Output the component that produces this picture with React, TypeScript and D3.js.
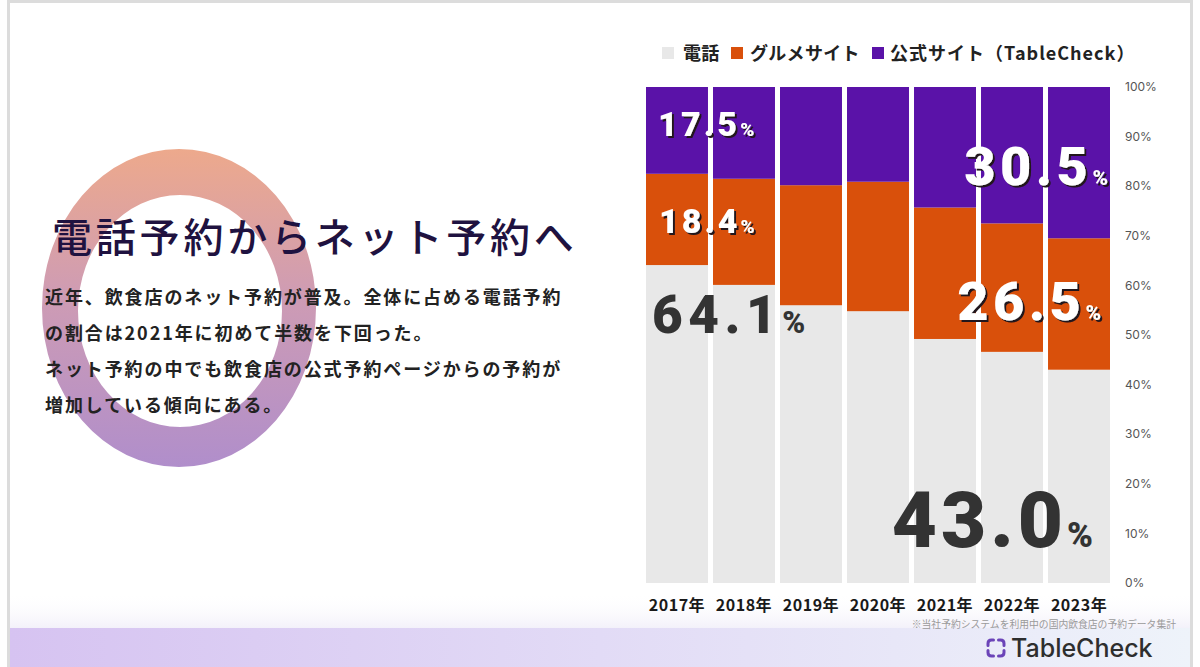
import React from "react";
import * as d3 from "d3";

const years = ["2017年", "2018年", "2019年", "2020年", "2021年", "2022年", "2023年"];
const phone = [64.1, 60.1, 56.0, 54.8, 49.2, 46.6, 43.0];
const gourmet = [18.4, 21.4, 24.2, 26.1, 26.5, 25.9, 26.5];
const official = [17.5, 18.5, 19.8, 19.1, 24.3, 27.5, 30.5];
const seriesKeys = ["phone", "gourmet", "official"];
const seriesNames = ["電話", "グルメサイト", "公式サイト（TableCheck）"];
const seriesColors = ["#e8e8e8", "#d9500b", "#5a12a8"];
const yTicks = [0, 10, 20, 30, 40, 50, 60, 70, 80, 90, 100];
const titleText = "電話予約からネット予約へ";
const bodyLines = [
  "近年、飲食店のネット予約が普及。全体に占める電話予約",
  "の割合は2021年に初めて半数を下回った。",
  "ネット予約の中でも飲食店の公式予約ページからの予約が",
  "増加している傾向にある。",
];
const footnote = "※当社予約システムを利用中の国内飲食店の予約データ集計";
const brand = "TableCheck";

const JP = "'Noto Sans CJK JP', 'Noto Sans', sans-serif";
const NUM = "Roboto, 'Noto Sans', 'DejaVu Sans', sans-serif";

export default function App() {
  const W = 1200;
  const H = 667;
  const x = d3.scaleBand<string>().domain(years).range([646, 1110]).paddingInner(0.075).paddingOuter(0);
  const y = d3.scaleLinear().domain([0, 100]).range([583, 87]);
  const bw = x.bandwidth();

  const rows = years.map((yr, i) => ({ year: yr, phone: phone[i], gourmet: gourmet[i], official: official[i] }));
  const stacked = d3.stack<any>().keys(seriesKeys)(rows);

  const ellipsePath = (cx: number, cy: number, rx: number, ry: number) =>
    `M${cx - rx},${cy} A${rx},${ry} 0 1,0 ${cx + rx},${cy} A${rx},${ry} 0 1,0 ${cx - rx},${cy} Z`;
  const ringPath = ellipsePath(179, 308, 137, 159) + " " + ellipsePath(180, 311, 102, 116);

  const segMid = (s: number, i: number) => (y(stacked[s][i][0]) + y(stacked[s][i][1])) / 2;
  const last = years.length - 1;
  const x0 = x(years[0])!;
  const xl = x(years[last])! + bw;

  type Lbl = { v: number; x: number; y: number; size: number; pct: number; anchor: string; white: boolean; ls: number };
  const labels: Lbl[] = [
    { v: official[0], x: x0 + 12, y: segMid(2, 0) + 6, size: 34, pct: 19, anchor: "start", white: true, ls: 3.2 },
    { v: gourmet[0], x: x0 + 13, y: segMid(1, 0) + 14, size: 34, pct: 19, anchor: "start", white: true, ls: 3 },
    { v: phone[0], x: x0 + 6, y: y(phone[0]) + 68, size: 53, pct: 31, anchor: "start", white: false, ls: 5.5 },
    { v: official[last], x: xl - 2, y: segMid(2, last) + 22, size: 54, pct: 21, anchor: "end", white: true, ls: 4.5 },
    { v: gourmet[last], x: xl - 9, y: segMid(1, last) + 16, size: 54, pct: 21, anchor: "end", white: true, ls: 4.5 },
    { v: phone[last], x: xl - 17, y: y(0) - 36, size: 78, pct: 35, anchor: "end", white: false, ls: 4 },
  ];

  const legendX = [662, 731, 872];
  const legendText = [683, 750, 890];

  // brand icon: four rounded corner brackets
  const icx = 996, icy = 648, ir = 8, ic = 3.5, ig = 2.5;
  const bracket = `M${-ir},${-ig} L${-ir},${-ir + ic} Q${-ir},${-ir} ${-ir + ic},${-ir} L${-ig},${-ir}`;

  return (
    <div style={{ position: "absolute", left: 0, top: 0, width: W, height: H }}>
      <svg width={W} height={H} viewBox={`0 0 ${W} ${H}`} style={{ display: "block" }}>
        <defs>
          <linearGradient id="ringGrad" x1="0" y1="0" x2="0" y2="1">
            <stop offset="0%" stopColor="#eda98c" />
            <stop offset="45%" stopColor="#cf9cb3" />
            <stop offset="100%" stopColor="#b08ecb" />
          </linearGradient>
          <linearGradient id="bandGrad" x1="0" y1="0" x2="1" y2="0">
            <stop offset="0%" stopColor="#d6c3f1" />
            <stop offset="50%" stopColor="#e2dbf6" />
            <stop offset="100%" stopColor="#eef3fa" />
          </linearGradient>
          <linearGradient id="fadeGrad" x1="0" y1="0" x2="0" y2="1">
            <stop offset="0%" stopColor="#ffffff" stopOpacity="0" />
            <stop offset="100%" stopColor="#f3f1fa" stopOpacity="1" />
          </linearGradient>
          <filter id="shadow" x="-10%" y="-20%" width="130%" height="150%">
            <feDropShadow dx="2" dy="2" stdDeviation="0.7" floodColor="#24141f" floodOpacity="1" />
          </filter>
        </defs>

        <rect x={0} y={0} width={W} height={H} fill="#ffffff" />
        <rect x={8.5} y={1.5} width={1183} height={H + 10} fill="#ffffff" stroke="#dcdcdc" strokeWidth={3} />
        <rect x={10} y={592} width={1180} height={36} fill="url(#fadeGrad)" />
        <rect x={10} y={628} width={1180} height={39} fill="url(#bandGrad)" />

        {/* decorative ring */}
        <path d={ringPath} fill="url(#ringGrad)" fillRule="evenodd" />

        {/* title & body */}
        <text x={52} y={252} fontFamily={JP} fontSize={40} fontWeight={500} fill="#1f1240" letterSpacing={3.8}>
          {titleText}
        </text>
        {bodyLines.map((l, i) => (
          <text key={i} x={45} y={304 + i * 36} fontFamily={JP} fontSize={18} fontWeight={700} fill="#222" letterSpacing={1.9}>
            {l}
          </text>
        ))}

        {/* bars */}
        {stacked.map((s, si) => (
          <g key={si} fill={seriesColors[si]}>
            {s.map((d, i) => (
              <rect key={i} x={x(years[i])} y={y(d[1])} width={bw} height={y(d[0]) - y(d[1])} />
            ))}
          </g>
        ))}

        {/* y axis labels */}
        {yTicks.map((t) => (
          <text key={t} x={1125} y={y(t)} dy="0.35em" fontFamily="Inter, 'DejaVu Sans', sans-serif" fontSize={12} fill="#555">
            {t}%
          </text>
        ))}

        {/* x axis labels */}
        {years.map((yr) => (
          <text key={yr} x={x(yr)! + bw / 2} y={611} textAnchor="middle" fontFamily={JP} fontSize={16} fontWeight={700} fill="#1a1a1a" letterSpacing={0.5}>
            {yr}
          </text>
        ))}

        {/* legend */}
        {seriesNames.map((n, i) => (
          <g key={n}>
            <rect x={legendX[i]} y={47} width={12} height={12} fill={seriesColors[i]} />
            <text x={legendText[i]} y={60} fontFamily={JP} fontSize={18} fontWeight={700} fill="#222" letterSpacing={i === 2 ? 1 : 0.3}>
              {n}
            </text>
          </g>
        ))}

        {/* value labels */}
        {labels.map((l, i) => (
          <text
            key={i}
            x={l.x}
            y={l.y}
            textAnchor={l.anchor as any}
            fontFamily={NUM}
            fontWeight={900}
            fontSize={l.size}
            letterSpacing={l.ls}
            fill={l.white ? "#ffffff" : "#333333"}
            filter={l.white ? "url(#shadow)" : undefined}
          >
            {l.v.toFixed(1)}
            <tspan fontSize={l.pct} letterSpacing={0}>%</tspan>
          </text>
        ))}

        {/* footnote */}
        <text x={1176} y={628} textAnchor="end" fontFamily={JP} fontSize={9.8} fill="#9a9a9a">
          {footnote}
        </text>

        {/* brand logo */}
        <g stroke="#6b44b8" strokeWidth={3} fill="none" strokeLinecap="round" strokeLinejoin="round" transform={`translate(${icx},${icy})`}>
          {[0, 90, 180, 270].map((rot) => (
            <path key={rot} d={bracket} transform={`rotate(${rot})`} />
          ))}
        </g>
        <text x={1011} y={657} fontFamily="Inter, 'Noto Sans', sans-serif" fontSize={25} fontWeight={500} fill="#2e2e2e">
          {brand}
        </text>
      </svg>
    </div>
  );
}
